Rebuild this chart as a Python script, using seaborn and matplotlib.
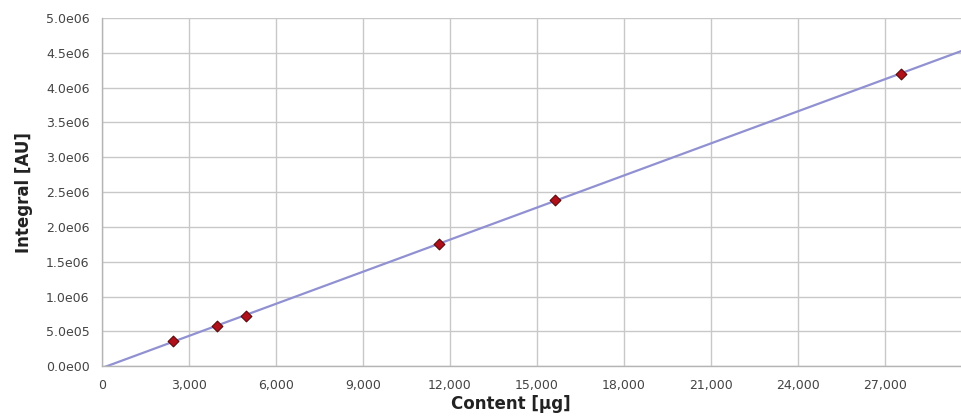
import matplotlib
matplotlib.use('Agg')
import matplotlib.pyplot as plt
from matplotlib.ticker import FuncFormatter, MultipleLocator
import numpy as np
import pandas as pd
import seaborn as sns

content = [2450, 3950, 4970, 11620, 15620, 27550]
integral = [3.6e5, 5.8e5, 7.2e5, 1.76e6, 2.39e6, 4.20e6]

sns.set_style('white')
plt.rcParams['font.family'] = ['DejaVu Sans']

df = pd.DataFrame({'content': content, 'integral': integral})

fig = plt.figure(figsize=(9.62, 4.19), dpi=100)
ax = fig.add_axes([0.106, 0.126, 0.894, 0.831])

x_max = 29650
slope, icpt = np.polyfit(df['content'], df['integral'], 1)
xs = np.array([0, x_max])
ax.plot(xs, slope * xs + icpt, color='#9191d2', lw=1.6, zorder=2)
sns.scatterplot(data=df, x='content', y='integral', ax=ax, marker='D', s=30,
                color='#b0101a', edgecolor='#5a0a0a', linewidth=0.8, zorder=3)

ax.set_xlim(0, x_max)
ax.set_ylim(0, 5e6)
ax.xaxis.set_major_locator(MultipleLocator(3000))
ax.yaxis.set_major_locator(MultipleLocator(5e5))
ax.xaxis.set_major_formatter(FuncFormatter(lambda v, p: f'{int(v):,}'))


def sci(v, p):
    m, e = f'{v:.1e}'.split('e')
    return f'{m}e{abs(int(e)):02d}'


ax.yaxis.set_major_formatter(FuncFormatter(sci))
ax.grid(True, color='#c8c8c8', lw=1)
ax.set_axisbelow(True)
for s in ['top', 'right']:
    ax.spines[s].set_visible(False)
for s in ['left', 'bottom']:
    ax.spines[s].set_color('#b4b4b4')
    ax.spines[s].set_linewidth(1)
ax.tick_params(axis='both', direction='out', length=6, width=1.3, color='#333333',
               labelsize=9, labelcolor='#444444', pad=3)
ax.tick_params(axis='x', length=4, color='#c8c8c8', pad=5)

ax.set_xlabel('Content [µg]', fontsize=12, fontweight='bold', color='#222222')
ax.set_ylabel('Integral [AU]', fontsize=12, fontweight='bold', color='#222222')
ax.xaxis.set_label_coords(0.475, -0.082)
ax.yaxis.set_label_coords(-0.080, 0.5)

fig.savefig('out.png', dpi=100)
